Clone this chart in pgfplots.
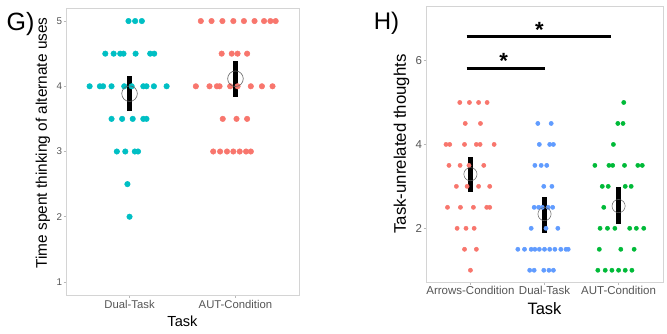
\documentclass[border=0pt]{standalone}
\usepackage{pgfplots}
\pgfplotsset{compat=1.18}
\usepackage{fontspec}
\setmainfont{Liberation Sans}
\definecolor{cyanG}{HTML}{00BFC4}
\definecolor{redG}{HTML}{F8766D}
\definecolor{blueH}{HTML}{619CFF}
\definecolor{greenH}{HTML}{00BA38}
\definecolor{boxgray}{HTML}{D4D4D4}
\definecolor{tickgray}{HTML}{B8B8B8}
\definecolor{labgray}{HTML}{555555}
\definecolor{circgray}{HTML}{606060}
\pgfplotsset{
  ggbase/.style={
    scale only axis, anchor=south west,
    axis line style={draw=boxgray, line width=0.9bp},
    tick style={draw=tickgray, line width=0.7bp},
    tick align=outside, major tick length=2.5bp,
    xtick pos=bottom, ytick pos=left,
    /pgf/number format/assume math mode=true,
    ticklabel style={text=labgray},
    yticklabel style={inner sep=1.2bp},
    xticklabel style={inner sep=1.5bp},
    clip=false,
  },
  dotG/.style={only marks, mark=*, mark size=2.75bp, color=#1, mark options={draw=#1, fill=#1, line width=0.5bp}},
  dotH/.style={only marks, mark=*, mark size=2.1bp, color=#1, mark options={draw=#1, fill=#1, line width=0.5bp}},
}
\begin{document}
\begin{tikzpicture}[x=1bp,y=1bp]
\useasboundingbox (0,0) rectangle (667,333);
% ---------------- Panel G ----------------
\begin{axis}[ggbase, at={(66bp,38bp)}, width=233bp, height=287bp,
  xmin=0.4, xmax=2.6, ymin=0.8, ymax=5.2,
  xtick={1,2}, xticklabels={Dual-Task, AUT-Condition},
  ytick={1,2,3,4,5},
  yticklabel style={font=\fontsize{9.8bp}{11bp}\selectfont},
  xticklabel style={font=\fontsize{11.3bp}{13bp}\selectfont, yshift=-1bp},
  xlabel={Task}, ylabel={Time spent thinking of alternate uses},
  xlabel style={at={(axis description cs:0.5,-0.093)}, anchor=center, font=\fontsize{14.6bp}{16bp}\selectfont},
  ylabel style={at={(axis description cs:-0.099,0.53)}, anchor=center, font=\fontsize{15.4bp}{17bp}\selectfont},
]
\addplot[dotG=cyanG] coordinates {
 (0.99,5) (1.053,5) (1.116,5)
 (0.771,4.5) (0.85,4.5) (0.912,4.5) (0.943,4.5) (1.057,4.5) (1.195,4.5) (1.233,4.5)
 (0.623,4) (0.72,4) (0.75,4) (0.83,4) (0.95,4) (1.02,4) (1.13,4) (1.16,4) (1.23,4) (1.35,4)
 (0.83,3.5) (0.93,3.5) (1.03,3.5) (1.13,3.5) (1.16,3.5)
 (0.88,3) (0.96,3) (1.05,3) (1.08,3)
 (0.98,2.5)
 (1.0,2)
};
\addplot[dotG=redG] coordinates {
 (1.673,5) (1.774,5) (1.877,5) (1.98,5) (2.08,5) (2.18,5) (2.27,5) (2.33,5) (2.38,5)
 (1.87,4.5) (1.965,4.5) (2.02,4.5) (2.11,4.5)
 (1.626,4) (1.755,4) (1.825,4) (1.85,4) (1.95,4) (2.02,4) (2.145,4) (2.25,4) (2.35,4)
 (1.88,3.5) (2.01,3.5) (2.11,3.5)
 (1.79,3) (1.855,3) (1.92,3) (1.98,3) (2.04,3) (2.1,3) (2.145,3)
};
\addplot[only marks, mark=o, mark size=7.8bp, color=circgray, mark options={line width=0.6bp}] coordinates {(1,3.887) (2,4.116)};
\addplot[black, line width=5.6bp] coordinates {(1,3.62) (1,4.15)};
\addplot[black, line width=5.6bp] coordinates {(2,3.84) (2,4.38)};
\end{axis}
\node[font=\fontsize{25bp}{28bp}\selectfont] at (20.5,309) {G)};
% ---------------- Panel H ----------------
\begin{axis}[ggbase, at={(426bp,51bp)}, width=237bp, height=276bp,
  xmin=0.4, xmax=3.6, ymin=0.72, ymax=7.3,
  xtick={1,2,3}, xticklabels={Arrows-Condition, Dual-Task, AUT-Condition},
  ytick={2,4,6},
  yticklabel style={font=\fontsize{11.5bp}{13bp}\selectfont},
  xticklabel style={font=\fontsize{11.5bp}{13bp}\selectfont},
  xlabel={Task}, ylabel={Task-unrelated thoughts},
  xlabel style={at={(axis description cs:0.5,-0.095)}, anchor=center, font=\fontsize{16.5bp}{18bp}\selectfont},
  ylabel style={at={(axis description cs:-0.103,0.5)}, anchor=center, font=\fontsize{16.8bp}{18bp}\selectfont},
]
\addplot[dotH=redG] coordinates {
 (0.856,5) (0.986,5) (1.11,5) (1.225,5)
 (0.93,4.5) (1.135,4.5)
 (0.67,4) (0.72,4) (0.92,4) (1.08,4) (1.13,4) (1.32,4)
 (0.71,3.5) (0.86,3.5) (0.98,3.5) (1.18,3.5)
 (0.81,3) (0.955,3) (1.11,3) (1.26,3)
 (0.69,2.5) (0.865,2.5) (1.04,2.5) (1.22,2.5) (1.26,2.5)
 (0.82,2) (0.94,2) (1.05,2)
 (0.92,1.5) (1.08,1.5)
 (1.0,1)
};
\addplot[dotH=blueH] coordinates {
 (1.91,4.5) (2.09,4.5)
 (1.93,4) (2.07,4) (2.12,4)
 (1.87,3.5) (1.955,3.5) (2.03,3.5)
 (1.99,3) (2.10,3)
 (1.86,2.5) (1.92,2.5) (1.97,2.5) (2.05,2.5) (2.11,2.5)
 (1.82,2) (2.02,2) (2.18,2)
 (1.64,1.5) (1.73,1.5) (1.82,1.5) (1.87,1.5) (1.93,1.5) (2.0,1.5) (2.07,1.5) (2.14,1.5) (2.22,1.5) (2.29,1.5) (2.32,1.5)
 (1.80,1) (1.86,1) (1.99,1) (2.06,1) (2.12,1)
};
\addplot[dotH=greenH] coordinates {
 (3.07,5)
 (2.99,4.5) (3.06,4.5)
 (2.93,4)
 (2.68,3.5) (2.87,3.5) (2.92,3.5) (3.08,3.5) (3.26,3.5) (3.32,3.5)
 (2.78,3) (2.86,3) (3.09,3) (3.17,3)
 (2.8,2.5)
 (2.75,2) (2.85,2) (2.95,2) (3.15,2) (3.24,2) (3.34,2)
 (2.74,1.5) (3.03,1.5) (3.21,1.5)
 (2.72,1) (2.82,1) (2.91,1) (3.0,1) (3.09,1) (3.18,1)
};
\addplot[only marks, mark=o, mark size=6.6bp, color=circgray, mark options={line width=0.5bp}] coordinates {(1,3.29) (2,2.34) (3,2.53)};
\addplot[black, line width=4.6bp] coordinates {(1,2.87) (1,3.69)};
\addplot[black, line width=4.6bp] coordinates {(2,1.90) (2,2.74)};
\addplot[black, line width=4.6bp] coordinates {(3,2.10) (3,2.98)};
\addplot[black, line width=3bp] coordinates {(0.95,5.82) (2.0,5.82)};
\addplot[black, line width=3bp] coordinates {(0.95,6.57) (2.9,6.57)};
\node[font=\bfseries\fontsize{22bp}{24bp}\selectfont] at (axis cs:1.45,5.98) {*};
\node[font=\bfseries\fontsize{22bp}{24bp}\selectfont] at (axis cs:1.93,6.72) {*};
\end{axis}
\node[font=\fontsize{24bp}{27bp}\selectfont] at (386.5,309.5) {H)};
\end{tikzpicture}
\end{document}
